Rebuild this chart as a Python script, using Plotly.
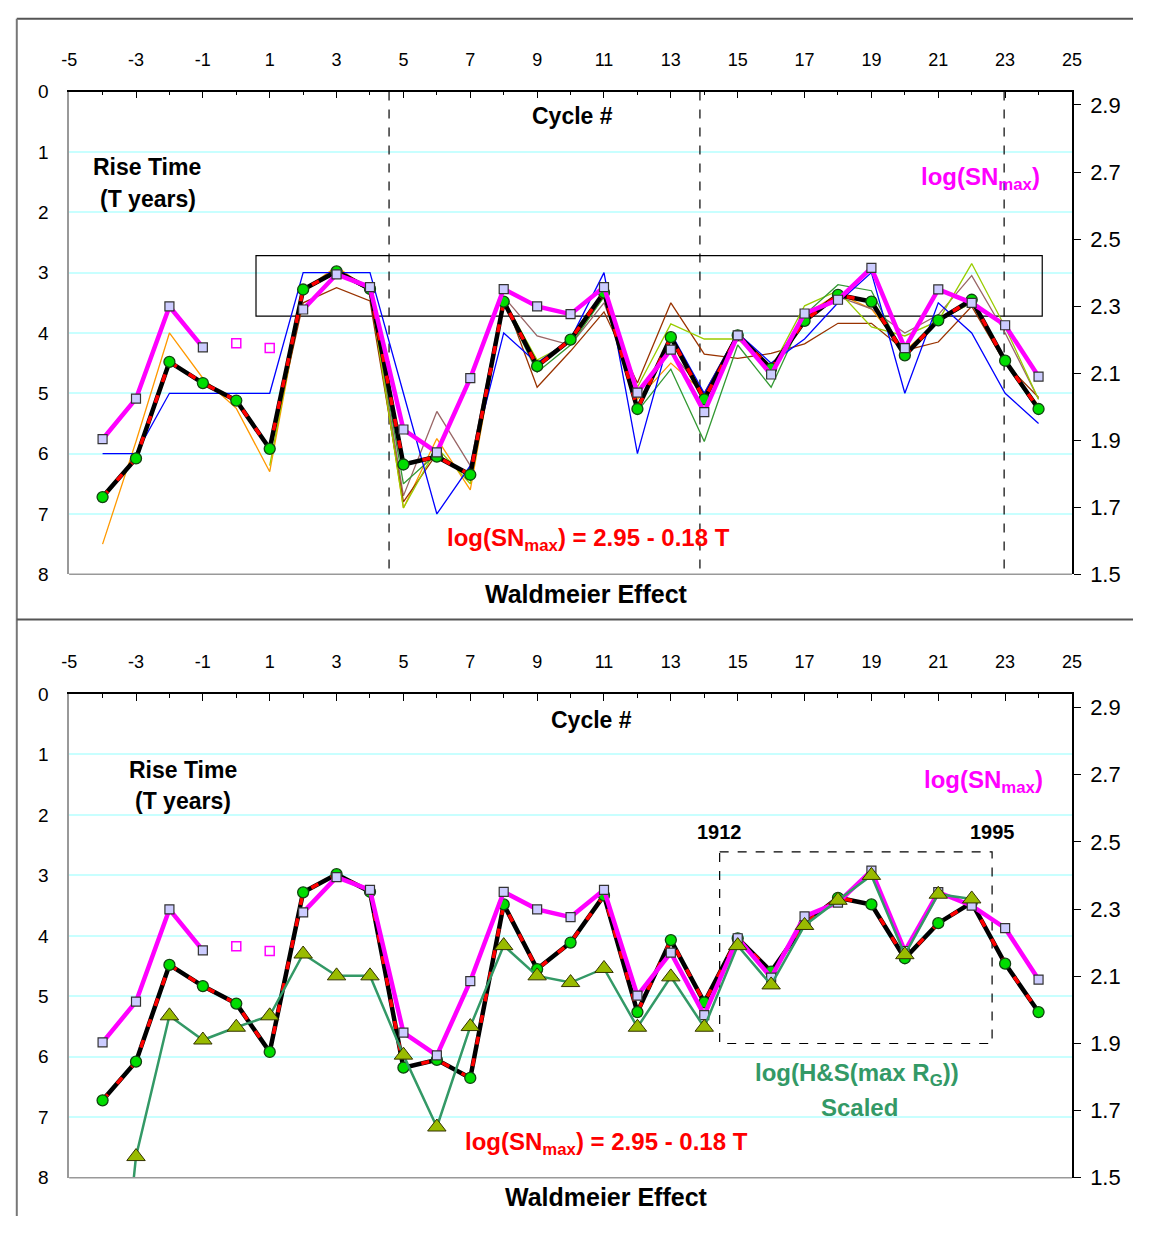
import plotly.graph_objects as go

# page is 1151x1237; the browser adds an 8px body margin, so the figure is 16px smaller
PAGE_W, PAGE_H = 1151, 1237
OFF = 8
W, H = PAGE_W - 2 * OFF, PAGE_H - 2 * OFF

# ---------------- data ----------------
cycles = list(range(-4, 25))

# Rise time T (years), black line with green dots
rise_T = [6.72, 6.08, 4.48, 4.83, 5.12, 5.92, 3.28, 2.98, 3.27, 6.18, 6.05, 6.35, 3.48, 4.55,
          4.11, 3.33, 5.26, 4.07, 5.10, 4.04, 4.59, 3.80, 3.37, 3.48, 4.37, 3.79, 3.45, 4.46, 5.26]

# log(SNmax), magenta line with squares (cycles 0 and 1 shown as open squares)
sn_log = [1.903, 2.024, 2.299, 2.177, None, None, 2.290, 2.395, 2.357, 1.932, 1.864, 2.085,
          2.351, 2.299, 2.276, 2.357, 2.042, 2.170, 1.984, 2.213, 2.096, 2.278, 2.319, 2.414,
          2.175, 2.350, 2.310, 2.243, 2.090]
open_cycles = [0, 1]
open_log = [2.189, 2.175]

# other rise-time estimates (thin lines, top panel)
est_blue = [6.0, 6.0, 5.0, 5.0, 5.0, 5.0, 3.0, 3.0, 3.0, 5.0, 7.0, 6.2, 4.0, 4.5, 4.1, 3.0,
            6.0, 4.0, 5.0, 4.0, 4.5, 4.1, 3.5, 3.0, 5.0, 3.5, 4.0, 5.0, 5.5]
est_orange = [7.5, 5.8, 4.0, 4.75, 5.25, 6.3, 3.3, 2.9, 3.3, 6.9, 5.75, 6.6, 3.5, 4.5, 4.1,
              3.4, 5.1, 4.5, 5.0, 4.0, 4.6, 3.7, 3.35, 3.6, 4.3, 3.8, 3.5, 4.5, 5.2]
est_brown = [None, None, None, None, None, 6.0, 3.5, 3.25, 3.47, 6.8, 6.0, 6.4, 3.4, 4.9,
             4.3, 3.65, 4.83, 3.5, 4.35, 4.42, 4.34, 4.18, 3.84, 3.84, 4.29, 4.15, 3.56, 4.5, 5.07]
est_mauve = [None, None, None, None, None, 6.0, 3.3, 3.0, 3.3, 6.7, 5.3, 6.2, 3.4, 4.05,
             4.2, 3.5, 5.0, 4.3, 5.0, 4.0, 4.6, 3.7, 3.4, 3.6, 4.0, 3.7, 3.05, 4.0, 5.1]
est_olive = [None, None, None, None, None, 6.2, 3.3, 3.0, 3.3, 6.9, 5.9, 6.5, 3.45, 4.45,
             4.15, 3.4, 4.9, 3.85, 4.1, 4.1, 4.6, 3.55, 3.3, 3.9, 4.05, 3.8, 2.85, 3.9, 5.1]
est_dkgreen = [None, None, None, None, None, 6.0, 3.3, 3.0, 3.3, 6.5, 6.0, 6.4, 3.5, 4.65,
               4.2, 3.4, 5.3, 4.6, 5.8, 4.2, 4.9, 3.7, 3.2, 3.3, 4.4, 3.8, 3.5, 4.5, 5.3]

# log(H&S(max RG)) scaled, bottom panel (cycles -4..22)
hs_cycles = list(range(-4, 23))
hs_log = [0.60, 1.563, 1.982, 1.910, 1.948, 1.982, 2.166, 2.101, 2.101, 1.865, 1.651, 1.950,
          2.191, 2.101, 2.081, 2.123, 1.948, 2.098, 1.948, 2.191, 2.074, 2.251, 2.326, 2.400,
          2.164, 2.344, 2.330]

x_ticks = list(range(-5, 26, 2))
x_ticktext = [str(v) for v in x_ticks]
right_ticks = [1.5, 1.7, 1.9, 2.1, 2.3, 2.5, 2.7, 2.9]
left_ticks = list(range(0, 9))

# ---------------- helpers (page pixel -> paper) ----------------
def px(x):
    return (x - OFF) / W

def py(y):
    return 1 - (y - OFF) / H

FONT = "Liberation Sans, Arial, sans-serif"
NARROW = "Liberation Sans Narrow, Arial Narrow, Liberation Sans, Arial, sans-serif"

fig = go.Figure()

def add_panel(xa, ya, ya2, top_panel):
    if top_panel:
        for vals, col in [(est_orange, "#FF9900"), (est_mauve, "#996666"),
                          (est_brown, "#993300"), (est_olive, "#99CC00"),
                          (est_dkgreen, "#339933"), (est_blue, "#0000FF")]:
            fig.add_trace(go.Scatter(x=cycles, y=vals, mode="lines",
                                     line=dict(color=col, width=1.3),
                                     xaxis=xa, yaxis=ya, showlegend=False, hoverinfo="skip"))
    # black rise time line
    fig.add_trace(go.Scatter(x=cycles, y=rise_T, mode="lines",
                             line=dict(color="black", width=4.5),
                             xaxis=xa, yaxis=ya, showlegend=False))
    # red dashed fit on top
    fig.add_trace(go.Scatter(x=cycles, y=rise_T, mode="lines",
                             line=dict(color="#FF0000", width=3.5, dash="8px,14px"),
                             xaxis=xa, yaxis=ya, showlegend=False, hoverinfo="skip"))
    fig.add_trace(go.Scatter(x=cycles, y=rise_T, mode="markers",
                             marker=dict(symbol="circle", size=11, color="#00DD00",
                                         line=dict(color="#114411", width=1.3)),
                             xaxis=xa, yaxis=ya, showlegend=False))
    # magenta log(SNmax)
    fig.add_trace(go.Scatter(x=cycles, y=sn_log, mode="lines+markers",
                             line=dict(color="#FF00FF", width=4.5),
                             marker=dict(symbol="square", size=9, color="#CCCCFF",
                                         line=dict(color="#333333", width=1.2)),
                             xaxis=xa, yaxis=ya2, showlegend=False))
    fig.add_trace(go.Scatter(x=open_cycles, y=open_log, mode="markers",
                             marker=dict(symbol="square-open", size=9, color="#FF00FF",
                                         line=dict(color="#FF00FF", width=1.5)),
                             xaxis=xa, yaxis=ya2, showlegend=False))
    if not top_panel:
        fig.add_trace(go.Scatter(x=hs_cycles, y=hs_log, mode="lines+markers",
                                 line=dict(color="#339966", width=2.5),
                                 marker=dict(symbol="triangle-up", size=16, color="#99BB00",
                                             line=dict(color="#333300", width=1)),
                                 xaxis=xa, yaxis=ya2, showlegend=False))

add_panel("x", "y", "y2", True)
add_panel("x2", "y3", "y4", False)

xdom = [px(62), px(1081)]
top_dom = [py(575), py(83)]
bot_dom = [py(1190), py(697)]

xcommon = dict(range=[-5, 25], side="top", tickmode="array", tickvals=x_ticks,
               ticktext=x_ticktext,
               showline=True, linecolor="black", linewidth=1.5,
               ticks="inside", ticklen=7, tickcolor="black", tickwidth=1.2,
               minor=dict(dtick=1, tick0=-5, ticks="inside", ticklen=4,
                          tickcolor="black", showgrid=False),
               showgrid=False, zeroline=False, ticklabelstandoff=17,
               tickfont=dict(family=NARROW, size=18, color="black"), domain=xdom)
ycommon = dict(range=[8, 0], tickmode="array", tickvals=left_ticks,
               ticktext=[str(v) for v in left_ticks],
               showgrid=True, gridcolor="#C8FFFF",
               gridwidth=1.5, showline=True, linecolor="#999999", linewidth=1.5,
               ticks="", zeroline=False, ticklabelstandoff=15,
               tickfont=dict(family=NARROW, size=19, color="black"))
y2common = dict(range=[1.5, 2.94], side="right", tickmode="array", tickvals=right_ticks,
                ticktext=[f"{v:.1f}" for v in right_ticks],
                showline=True, linecolor="black", linewidth=1.5,
                ticks="outside", ticklen=7, tickcolor="black", showgrid=False,
                zeroline=False, ticklabelstandoff=5,
                tickfont=dict(family=NARROW, size=22, color="black"))

fig.update_layout(
    width=W, height=H, margin=dict(l=0, r=0, t=0, b=0),
    paper_bgcolor="white", plot_bgcolor="white", showlegend=False,
    xaxis=dict(anchor="y", **xcommon),
    yaxis=dict(anchor="x", domain=top_dom, **ycommon),
    yaxis2=dict(anchor="x", overlaying="y", **y2common),
    xaxis2=dict(anchor="y3", **xcommon),
    yaxis3=dict(anchor="x2", domain=bot_dom, **ycommon),
    yaxis4=dict(anchor="x2", overlaying="y3", **y2common),
)

shapes = []
# outer frame
shapes.append(dict(type="line", xref="paper", yref="paper", x0=px(8.8), x1=1, y0=py(8.8), y1=py(8.8),
                   line=dict(color="#555555", width=2)))
shapes.append(dict(type="line", xref="paper", yref="paper", x0=px(8.8), x1=px(8.8), y0=0, y1=py(8.8),
                   line=dict(color="#777777", width=2)))
shapes.append(dict(type="line", xref="paper", yref="paper", x0=px(8.8), x1=1, y0=py(621), y1=py(621),
                   line=dict(color="#555555", width=2)))
# bottom border of plot areas
for yb in (575, 1190):
    shapes.append(dict(type="line", xref="paper", yref="paper", x0=px(62), x1=px(1081),
                       y0=py(yb), y1=py(yb), line=dict(color="#999999", width=1.5)))
# vertical dashed lines, top panel
for xv in (4.57, 13.87, 22.97):
    shapes.append(dict(type="line", xref="x", yref="y", x0=xv, x1=xv, y0=0, y1=8,
                       line=dict(color="black", width=1.2, dash="dash"), layer="between"))
# rectangle top panel
shapes.append(dict(type="rect", xref="x", yref="y", x0=0.59, x1=24.11, y0=2.72, y1=3.72,
                   line=dict(color="black", width=1.2), layer="between"))
# dashed rectangle bottom panel
shapes.append(dict(type="rect", xref="x2", yref="y3", x0=14.46, x1=22.61, y0=2.61, y1=5.78,
                   line=dict(color="black", width=1.2, dash="dash"), layer="between"))
fig.update_layout(shapes=shapes)

def ann(x, y, text, size=23, color="black"):
    fig.add_annotation(x=px(x), y=py(y), xref="paper", yref="paper", text=text,
                       showarrow=False, xanchor="center", yanchor="middle",
                       font=dict(family=FONT, size=size, color=color))

B = lambda s: f"<b>{s}</b>"
sn = "log(SN<sub>max</sub>)"
eq = "log(SN<sub>max</sub>) = 2.95 - 0.18 T"

# top panel texts
ann(573, 108, B("Cycle #"))
ann(141, 160, B("Rise Time"))
ann(142, 192, B("(T years)"))
ann(988, 172, B(sn), size=24, color="#FF00FF")
ann(590, 540, B(eq), size=24, color="#FF0000")
ann(588, 595, B("Waldmeier Effect"), size=25)
# bottom panel texts
ann(593, 723, B("Cycle #"))
ann(178, 774, B("Rise Time"))
ann(178, 806, B("(T years)"))
ann(991, 786, B(sn), size=24, color="#FF00FF")
ann(723, 838, B("1912"), size=20)
ann(1000, 838, B("1995"), size=20)
ann(863, 1085, B("log(H&amp;S(max R<sub>G</sub>))"), size=24, color="#339966")
ann(865, 1118, B("Scaled"), size=24, color="#339966")
ann(608, 1155, B(eq), size=24, color="#FF0000")
ann(608, 1210, B("Waldmeier Effect"), size=25)

fig.write_html("out.html", config={"displayModeBar": False})
